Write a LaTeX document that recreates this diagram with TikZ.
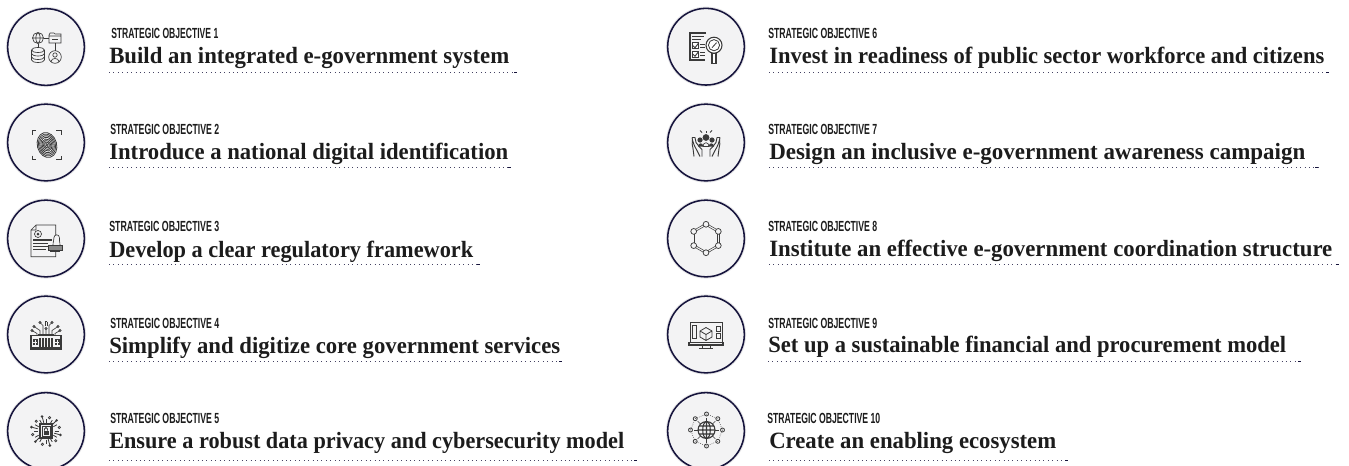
\documentclass[tikz,border=0pt]{standalone}
\usepackage{fontspec}
\usepackage{graphicx}
\setmainfont{Liberation Serif}
\newfontfamily\hdrfont{Liberation Sans}
\newdimen\unitpx \unitpx=.75pt
\definecolor{navyring}{HTML}{16143C}
\definecolor{discfill}{HTML}{F3F3F4}
\definecolor{halo}{HTML}{E4E4E6}
\definecolor{inkc}{HTML}{1C1C1C}
\definecolor{iconc}{HTML}{3A3A3A}
\tikzset{
  x=.75pt,y=-.75pt,
  ring/.style={circle,draw=navyring,fill=discfill,line width=1.15pt,minimum size=57.5pt,inner sep=0pt,
    preaction={draw=halo,line width=2.6pt}},
  objhead/.style={anchor=base west,inner sep=0pt,text=inkc},
  objtitle/.style={anchor=base west,inner sep=0pt,text=inkc},
  dotline/.style={draw=navyring!80,line width=.62pt,dash pattern=on .62pt off 2.7pt},
  enddash/.style={draw=navyring,line width=.7pt},
  ic/.style={draw=iconc,line width=.5pt},
  icf/.style={fill=iconc,draw=none},
}
\begin{document}
\begin{tikzpicture}
\clip (0,0) rectangle (1349,465);
\fill[white] (0,0) rectangle (1349,465);
\foreach \n/\cx/\cy/\hx/\hw/\hy/\num/\tx/\tw/\ty/\lx/\ly/\ttl in {
 1/46/47/111/107/38/1/109/400/63/516.7/72.3/Build an integrated e-government system,
 2/46/142.5/110/109/134/2/109/399/159.5/511/167/Introduce a national digital identification,
 3/46/238.5/109/110/231/3/109/364/257/480/264/Develop a clear regulatory framework,
 4/46/334.5/110/109/328/4/109/451/353/562/361.5/Simplify and digitize core government services,
 5/46/431/110/109/423/5/109/515/448.5/637/460/Ensure a robust data privacy and cybersecurity model,
 6/706/46.7/768/109/38/6/769/555/63/1329/72/Invest in readiness of public sector workforce and citizens,
 7/706/142.5/768/109/134/7/769/536/159/1318/167/Design an inclusive e-government awareness campaign,
 8/706/238.5/768/109/231/8/769/563/256/1339/264/Institute an effective e-government coordination structure,
 9/706/334.5/768/109/328/9/768/518/352.5/1301/361.5/Set up a sustainable financial and procurement model,
 10/706/431/767/113/423/10/769/287/448/1068/460/Create an enabling ecosystem}
{
  \node[ring] (disc\n) at (\cx,\cy) {};
  \node[objhead] (head\n) at (\hx,\hy) {\resizebox{\hw\unitpx}{\height}{\hdrfont\fontsize{11}{11}\bfseries\selectfont STRATEGIC OBJECTIVE \num}};
  \node[objtitle] (title\n) at (\tx,\ty) {\resizebox{\tw\unitpx}{\height}{\fontsize{17.5}{17.5}\bfseries\selectfont \ttl}};
  \coordinate (ls\n) at (\tx,\ly);
  \coordinate (le\n) at (\lx,\ly);
  \draw[dotline] (ls\n) -- (le\n);
  \draw[enddash] ([xshift=-2pt]le\n) -- (le\n);
}
% icon 1: integrated system
\begin{scope}[shift={(46,47)}]
  \draw[ic] (-8,-9) circle (5.5) (-8,-14.5) .. controls (-11,-12) and (-11,-6) .. (-8,-3.5) (-8,-14.5) .. controls (-5,-12) and (-5,-6) .. (-8,-3.5) (-13.5,-9) -- (-2.5,-9);
  \draw[ic] (-2.5,-9) -- (3,-9);
  \draw[ic] (3,-12) -- (3,-4) -- (15,-4) -- (15,-13) -- (9,-13) -- (8,-14) -- (4,-14) -- (3,-12) (3,-11) -- (15,-11);
  \draw[ic] (6,-7.5) -- (12,-7.5);
  \draw[ic] (-8,-3.5) -- (-8,0.5);
  \draw[ic] (-14.5,3) arc (180:360:6.5 and 2.5) -- (-1.5,13) arc (0:180:6.5 and 2.5) -- cycle
     (-14.5,3) arc (180:0:6.5 and 2.5)
     (-14.5,6.5) arc (180:0:6.5 and 2.5) (-14.5,10) arc (180:0:6.5 and 2.5);
  \draw[ic] (9,-4) -- (9,4);
  \draw[ic] (9,10) circle (6.3) (9,8) circle (2.2) (5,14.5) .. controls (5.5,10.5) and (12.5,10.5) .. (13,14.5);
\end{scope}
% icon 2: fingerprint
\begin{scope}[shift={(46,142.5)}]
  \draw[ic,line width=.6pt] (-14,-8) -- (-14,-12) -- (-10,-12) (10,-12) -- (15,-12) -- (15,-8) (-14,13) -- (-14,17) -- (-10,17) (10,17) -- (15,17) -- (15,13);
  \begin{scope}[shift={(1,2.5)},rotate=15]
   \foreach \r in {1.2,2.6,4,5.4,6.8,8.2,9.6,11}
     \draw[iconc,line width=.6pt] (0,0) ellipse (\r*.88 and \r*1.15);
  \end{scope}
\end{scope}
% icon 3: document with stamp
\begin{scope}[shift={(46,238.5)}]
  \draw[ic] (-10,-13.5) -- (9.7,-13.5) -- (9.7,18.2) -- (-15,18.2) -- (-15,-8.5) -- cycle (-15,-8.5) -- (-10,-8.5) -- (-10,-13.5);
  \draw[ic] (-8,-4.5) circle (3.5);
  \fill[iconc] (-8,-4.5) circle (1.5);
  \draw[ic,line width=.8pt] (-13,1.5) -- (6,1.5) (-13,5) -- (2,5) (-13,8) -- (2,8) (-13,11) -- (0,11);
  \draw[ic,fill=discfill] (7,7) .. controls (7,3) and (8,2) .. (8,-1) arc (180:360:2.7) .. controls (13,2) and (14,3) .. (14,7) -- cycle;
  \draw[ic,fill=iconc!60] (2,7) rectangle (16,12);
  \draw[ic,line width=.8pt] (4,13.2) -- (14,13.2);
\end{scope}
% icon 4: government building with circuit lines
\begin{scope}[shift={(46,334.5)}]
  \draw[ic,line width=.8pt] (-15,1) rectangle (15,14.5);
  \fill[iconc] (-15,12.5) rectangle (15,15);
  \fill[iconc] (-8,-0.5) -- (8,-0.5) -- (8,1.5) -- (-8,1.5) -- cycle;
  \foreach \xx in {-7,-4,-1,2,5} \fill[iconc] (\xx,3) rectangle +(1.6,9);
  \draw[ic,fill=iconc] (-13,5) rectangle (-9,10) (9,5) rectangle (13,10);
  \draw[discfill,line width=.4pt] (-11,5) -- (-11,10) (-13,7.5) -- (-9,7.5) (11,5) -- (11,10) (9,7.5) -- (13,7.5);
  \draw[ic] (-6,-0.5) -- (-6,-4) -- (-12,-8) (-3,-0.5) -- (-3,-9) -- (-6,-12) (0,-0.5) -- (0,-6)
            (3,-0.5) -- (3,-9) -- (6,-12) (6,-0.5) -- (6,-4) -- (12,-8)
            (-9,1) -- (-9,-1) -- (-14,-4) (9,1) -- (9,-1) -- (14,-4);
  \foreach \p/\q in {-12/-8,-6/-12,0/-6,6/-12,12/-8,-14/-4,14/-4}
    \draw[ic] (\p,\q) circle (1.2);
  \draw[ic] (-1,-13) -- (-1,-9) (1,-13) -- (1,-9) (-1,-13) -- (1,-13);
\end{scope}
% icon 5: locked chip
\begin{scope}[shift={(46,431)}]
  \draw[ic,line width=.8pt] (-6,-7) rectangle (6,7);
  \draw[ic] (-4,-5) rectangle (4,5);
  \fill[iconc] (-2.5,-0.5) rectangle (2.5,3.8);
  \draw[ic,line width=.7pt] (-1.5,-0.5) -- (-1.5,-2) arc (180:360:1.5) -- (1.5,-0.5);
  \foreach \a in {0,30,...,330}
    \draw[ic,line width=.6pt] (\a:8.5) -- (\a:12.5);
  \foreach \a in {15,75,135,195,255,315}
    \draw[ic,line width=.6pt] (\a:8.5) -- (\a:14);
  \foreach \a in {15,75,135,195,255,315}
    \fill[iconc] (\a:15) circle (1.4);
  \foreach \a in {45,105,165,225,285,345}
    \draw[ic,fill=discfill] (\a:13.8) circle (1.2);
\end{scope}
% icon 6: checklist with magnifier
\begin{scope}[shift={(706,46.7)}]
  \draw[ic,line width=.8pt] (0,-13.7) -- (-16,-13.7) -- (-16,13.3) -- (-1,13.3);
  \draw[ic,line width=.9pt] (-14,-10.5) -- (-2,-10.5) (-14,-7.5) -- (-5,-7.5);
  \draw[ic,fill=white,line width=.7pt] (-14,-4) rectangle (-8,2) (-14,4.5) rectangle (-8,10.5);
  \draw[ic,line width=.7pt] (-13,-1) -- (-11,1) -- (-7.5,-3.5) (-13,7.5) -- (-11,9.5) -- (-7.5,5);
  \draw[ic,line width=.8pt] (-6,-2) -- (-1,-2) (-6,1) -- (-1,1) (-6,6) -- (-1,6) (-6,9) -- (-1,9);
  \draw[ic,fill=white,line width=.8pt] (8,-1.5) circle (8);
  \draw[ic,line width=.6pt] (8,-1.5) circle (5.6) (6,1) -- (10.5,-4);
  \draw[ic,fill=white,line width=.8pt] (6,6.5) rectangle (10,16.5);
\end{scope}
% icon 7: hands and people
\begin{scope}[shift={(706,142.5)}]
  \foreach \s in {-1,1}{
   \draw[ic,line width=.7pt] (\s*14,-5) .. controls (\s*13,0) and (\s*12,3) .. (\s*9,8) -- (\s*6,14)
     (\s*11,-5) -- (\s*10,0) .. controls (\s*8,3) and (\s*6,5) .. (\s*4,7) (\s*4,14) -- (\s*4,7)
     (\s*14,-5) -- (\s*11,-5) (\s*12,14) -- (\s*13,6) .. controls (\s*14,3) and (\s*14,0) .. (\s*13.5,-3);
   \draw[iconc,line width=.6pt] (\s*4,-10) -- (\s*6,-12);
  }
  \draw[iconc,line width=.6pt] (0,-10) -- (0,-12);
  \fill[iconc] (0,-5) circle (3.4) (-6,-2.5) circle (2.6) (6,-2.5) circle (2.6);
  \fill[iconc] (-8,4) .. controls (-8,0) and (-3,0) .. (-3,3) -- (3,3) .. controls (3,0) and (8,0) .. (8,4) -- cycle;
  \draw[ic,fill=discfill] (-3,4) .. controls (-3,-1) and (3,-1) .. (3,4) -- cycle;
\end{scope}
% icon 8: hexagon network
\begin{scope}[shift={(706,238.5)}]
  \foreach \a/\b in {90/30,30/-30,-30/-90,-90/-150,-150/150,150/90}
    \draw[iconc,line width=1.8pt] (\a:14.2) -- (\b:14.2);
  \foreach \a/\b in {90/30,30/-30,-30/-90,-90/-150,-150/150,150/90}
    \draw[discfill,line width=.8pt] (\a:14.2) -- (\b:14.2);
  \foreach \a in {90,30,-30,-90,-150,150}
    \draw[ic,fill=discfill,line width=.55pt] (\a:14.2) circle (2.9);
\end{scope}
% icon 9: monitor
\begin{scope}[shift={(706,334.5)}]
  \draw[ic,line width=.7pt] (-16,8) -- (-16,-12.5) -- (16,-12.5) -- (16,8);
  \draw[ic,line width=.8pt] (-17,8) rectangle (17,10.5);
  \draw[ic] (-4,10.5) -- (-4,13) (4,10.5) -- (4,13) (-7,13.5) -- (7,13.5);
  \draw[ic,line width=.8pt] (-13.5,-9) rectangle (-9.5,4);
  \draw[ic,line width=.6pt] (0,-7) -- (6,-3.5) -- (6,2.5) -- (0,6) -- (-6,2.5) -- (-6,-3.5) -- cycle (-6,-3.5) -- (0,0) -- (6,-3.5) (0,0) -- (0,6);
  \draw[ic,line width=.7pt] (10,-8) rectangle (14,-3) (10,-1) rectangle (14,4);
\end{scope}
% icon 10: globe network
\begin{scope}[shift={(706.5,430)}]
  \draw[ic,line width=.8pt] (0,0) circle (8.5) (0,0) ellipse (3.8 and 8.5) (-8.5,0) -- (8.5,0) (-7.5,-4) -- (7.5,-4) (-7.5,4) -- (7.5,4) (0,-8.5) -- (0,8.5);
  \foreach \a in {0,45,...,315}{
    \draw[ic,densely dashed,line width=.4pt] (\a:8.5) -- (\a:14);
    \draw[ic,fill=discfill,line width=.6pt] (\a:16) circle (2);
  }
  \foreach \a/\b in {0/45,45/90,90/135,135/180,180/225,225/270,270/315,315/360}
    \draw[ic,densely dotted,line width=.4pt] (\a:16) -- (\b:16);
\end{scope}
\end{tikzpicture}
\end{document}
